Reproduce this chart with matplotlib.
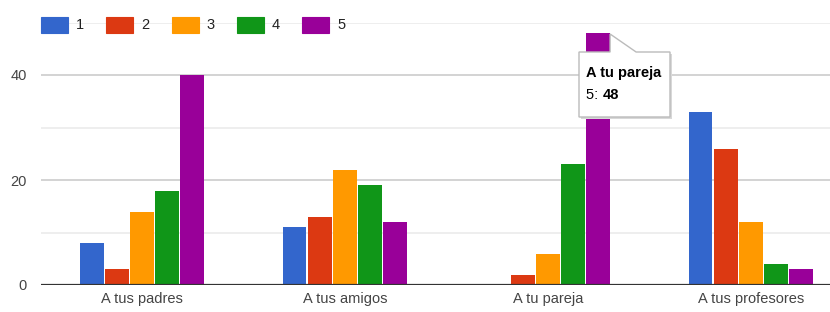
import matplotlib.pyplot as plt
from matplotlib.patches import Rectangle, Polygon
from matplotlib import font_manager

# data
categories = ["A tus padres", "A tus amigos", "A tu pareja", "A tus profesores"]
series = ["1", "2", "3", "4", "5"]
values = [
    [8, 11, 0, 33],
    [3, 13, 2, 26],
    [14, 22, 6, 12],
    [18, 19, 23, 4],
    [40, 12, 48, 3],
]
colors = ["#3366cc", "#dc3912", "#ff9900", "#109618", "#990099"]
yticks = [0, 20, 40]
tip_cat = 2
tip_series = 4

names = {f.name for f in font_manager.fontManager.ttflist}
narrow = "Liberation Sans Narrow" in names
print("narrow available:", narrow)
plt.rcParams['font.family'] = ['Liberation Sans Narrow', 'Liberation Sans', 'DejaVu Sans']
fs = 12.5 if narrow else 10.5

W, H = 830, 312
fig = plt.figure(figsize=(W / 100, H / 100), dpi=100)
ax = fig.add_axes([40.5 / W, 1 - 285 / H, 1 - 40.5 / W, (285 - 22.5) / H])

slot = 0.124
bw = 0.117
for i, (name, vals, c) in enumerate(zip(series, values, colors)):
    xs = [k + (i - 2) * slot for k in range(len(categories))]
    ax.bar(xs, vals, width=bw, color=c, zorder=3, linewidth=0)

ax.set_xlim(-0.5, 3.39)
ax.set_ylim(0, 50)
ax.set_yticks(yticks)
ax.set_yticks([10, 30, 50], minor=True)
ax.set_xticks(range(len(categories)))
ax.set_xticklabels(categories)
ax.grid(which="major", axis="y", color="#cccccc", linewidth=1.2, zorder=0)
ax.grid(which="minor", axis="y", color="#ebebeb", linewidth=1.2, zorder=0)
ax.axhline(0, color="#333333", linewidth=1.6, zorder=4)
for s in ax.spines.values():
    s.set_visible(False)
ax.tick_params(axis="both", which="both", length=0, labelsize=fs, colors="#444444")
ax.tick_params(axis="x", pad=5)
ax.tick_params(axis="y", pad=10)

# legend
lx = 41
for i, (name, c) in enumerate(zip(series, colors)):
    x0 = lx + i * 65.3
    fig.add_artist(Rectangle((x0 / W, 1 - 33 / H), 27 / W, 16 / H,
                             transform=fig.transFigure, facecolor=c,
                             edgecolor=c, alpha=1, linewidth=0.8))
    fig.text((x0 + 35) / W, 1 - 25 / H, name, fontsize=fs, color="#222222",
             ha="left", va="center")

# tooltip
fig.canvas.draw()
bx = tip_cat + (tip_series - 2) * slot + bw / 2
px, py = ax.transData.transform((bx, values[tip_series][tip_cat]))
py = H - py  # pixels from top
bl, bt, br, bb = 579, py + 19, 670, py + 84
tx = lambda x: x / W
ty = lambda y: 1 - y / H
# shadow
fig.add_artist(Rectangle((tx(bl + 1.5), ty(bb + 2)), (br - bl) / W, (bb - bt) / H,
                         transform=fig.transFigure, facecolor="#d8d8d8",
                         edgecolor="none", zorder=9))
pts = [(bl, bt), (px, bt), (px, py + 1), (px + 26, bt), (br, bt), (br, bb), (bl, bb)]
fig.add_artist(Polygon([(tx(x), ty(y)) for x, y in pts], closed=True,
                       transform=fig.transFigure, facecolor="white",
                       edgecolor="#bbbbbb", linewidth=1, zorder=10))
fig.text(tx(bl + 7), ty(bt + 21), categories[tip_cat], fontsize=fs,
         fontweight="bold", color="#000000", va="center", zorder=11)
t1 = fig.text(tx(bl + 7), ty(bt + 43), series[tip_series] + ": ", fontsize=fs,
              color="#000000", va="center", zorder=11)
ext = t1.get_window_extent(fig.canvas.get_renderer())
fig.text(ext.x1 / W, ty(bt + 43), str(values[tip_series][tip_cat]), fontsize=fs,
         fontweight="bold", color="#000000", va="center", zorder=11)

fig.savefig("out.png", dpi=100)
